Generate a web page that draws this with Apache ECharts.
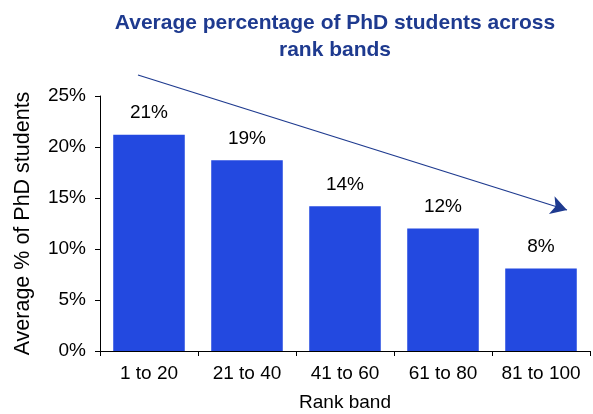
<!DOCTYPE html>
<html><head><meta charset="utf-8">
<script src="https://cdn.jsdelivr.net/npm/echarts@6/dist/echarts.min.js"></script>
<style>html,body{margin:0;padding:0;background:#fff}#c{width:593px;height:414px}</style>
</head><body><div id="c"></div>
<script>
const categories = ['1 to 20', '21 to 40', '41 to 60', '61 to 80', '81 to 100'];
const values = [21.2, 18.7, 14.2, 12.0, 8.1];
const labels = ['21%', '19%', '14%', '12%', '8%'];
const titleText = 'Average percentage of PhD students across\nrank bands';
const yName = 'Average % of PhD students';
const xName = 'Rank band';

const chart = echarts.init(document.getElementById('c'), null, {renderer: 'canvas'});
const font = 'Liberation Sans, Arial, sans-serif';
chart.setOption({
  animation: false,
  title: {
    text: titleText, left: 330, top: 5, textAlign: 'center',
    textStyle: {fontFamily: font, fontSize: 21, fontWeight: 'bold', color: '#1e3a8f', lineHeight: 27}
  },
  grid: {left: 100, right: 3, top: 96, bottom: 63, containLabel: false, outerBoundsMode: 'none'},
  xAxis: {
    type: 'category', data: categories,
    name: xName, nameLocation: 'middle', nameGap: 42,
    nameTextStyle: {fontFamily: font, fontSize: 19, color: '#000'},
    axisLine: {lineStyle: {color: '#000', width: 1}},
    axisTick: {show: true, length: 5, alignWithLabel: false, interval: 0, lineStyle: {color: '#000'}},
    axisLabel: {fontFamily: font, fontSize: 19, color: '#000', margin: 13, interval: 0, hideOverlap: false}
  },
  yAxis: {
    type: 'value', min: 0, max: 25, interval: 5,
    name: yName, nameLocation: 'middle', nameGap: 66,
    nameTextStyle: {fontFamily: font, fontSize: 21.5, color: '#000'},
    axisLine: {show: true, lineStyle: {color: '#000', width: 1}},
    axisTick: {show: true, length: 5, lineStyle: {color: '#000'}},
    splitLine: {show: false},
    axisLabel: {fontFamily: font, fontSize: 19, color: '#000', margin: 14, formatter: '{value}%'}
  },
  series: [{
    type: 'bar', data: values, barWidth: '73%',
    itemStyle: {color: '#2349e0'},
    label: {
      show: true, position: 'top', distance: 12,
      fontFamily: font, fontSize: 19, color: '#000',
      formatter: p => labels[p.dataIndex]
    },
    markLine: {
      silent: true, symbol: ['none', 'arrow'], symbolSize: [14, 16],
      label: {show: false},
      lineStyle: {color: '#1e3a8f', width: 1.3, type: 'solid'},
      data: [[{x: 138, y: 75}, {x: 567, y: 210}]]
    }
  }]
});
</script></body></html>
